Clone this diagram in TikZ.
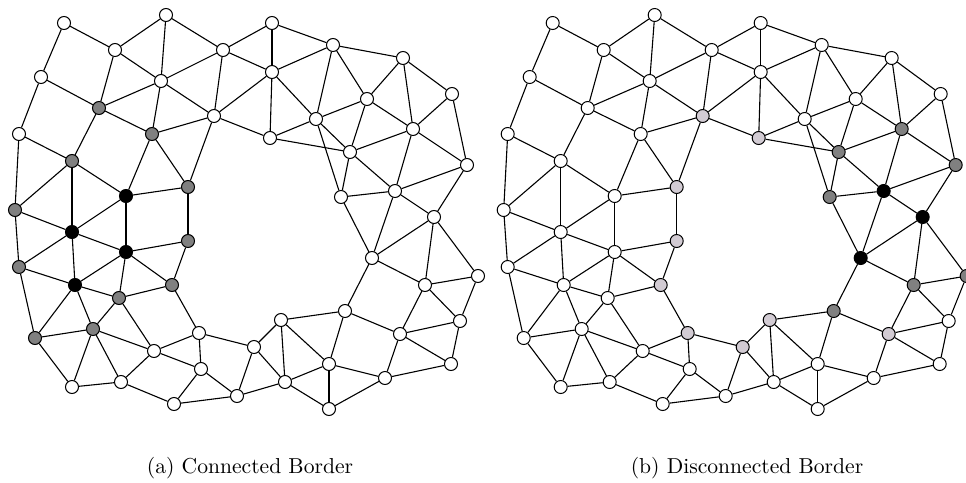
\documentclass[tikz,border=0pt]{standalone}
\usepackage{tikz}
\definecolor{wt}{HTML}{FFFFFF}
\definecolor{gy}{HTML}{808080}
\definecolor{lg}{HTML}{D2CBD3}
\definecolor{bk}{HTML}{000000}

\begin{document}
\begin{tikzpicture}[x=0.5pt,y=-0.5pt,
    vtx/.style={circle,draw,line width=0.5pt,minimum size=6.5pt,inner sep=0pt},
    wire/.style={line width=0.55pt},
    caption/.style={font=\fontsize{10.8}{13}\selectfont}]
  \useasboundingbox (0,0) rectangle (966,483);
  % vertices: name/x/y/fill in (a)/fill in (b)
  \foreach \n/\x/\y/\ca/\cb in {
      A1/64/23/wt/wt, A2/166/15/wt/wt, A3/115/50/wt/wt, A4/223/50/wt/wt,
      A5/41/77/wt/wt, A6/161/81/wt/wt, A7/99/108/gy/wt, A8/214/116/wt/lg,
      A9/19/134/wt/wt, A10/152/134/gy/wt, A11/72/161/gy/wt, A12/188/187/gy/lg,
      A13/126/196/bk/wt, A14/15/210/gy/wt,
      B1/272/23/wt/wt, B2/333/45/wt/wt, B3/272/72/wt/wt, B4/403/58/wt/wt,
      B5/452/94/wt/wt, B6/367/99/wt/wt, B7/316/119/wt/wt, B8/270/138/wt/lg,
      B9/413/129/wt/gy, B10/350/152/wt/gy, B11/467/165/wt/gy, B12/341/197/wt/gy,
      B13/395/191/wt/bk, B14/434/217/wt/bk,
      C3/372/258/wt/bk, C4/478/276/wt/gy, C5/425/285/wt/gy, C6/345/311/wt/gy,
      C7/281/320/wt/lg, C8/460/321/wt/wt, C9/400/334/wt/lg, C10/254/347/wt/lg,
      C11/329/364/wt/wt, C12/451/364/wt/wt, C13/285/382/wt/wt, C14/385/378/wt/wt,
      C15/237/396/wt/wt, C16/329/409/wt/wt,
      D1/72/232/bk/wt, D2/188/241/gy/lg, D3/126/252/bk/wt, D4/19/267/gy/wt,
      D5/75/285/bk/wt, D6/172/285/gy/lg, D7/119/298/gy/wt, D8/93/329/gy/wt,
      D9/35/338/gy/wt, D10/199/333/wt/lg, D11/154/351/wt/wt, D12/201/369/wt/wt,
      D13/121/382/wt/wt, D14/72/387/wt/wt, D15/174/404/wt/wt}
  {
    \node[vtx,fill=\ca] (a\n) at (\x,\y) {};
    \node[vtx,fill=\cb] (b\n) at (\x+488.7,\y) {};
  }
  % edges, same mesh in both panels
  \foreach \u/\v in {
      A1/A3, A1/A5, A2/A3, A2/A6, A2/A4, A3/A6, A3/A7, A4/A6, A4/A8, A4/B1,
      A4/B3, A5/A7, A5/A9, A6/A7, A6/A8, A6/A10, A7/A10, A7/A11, A8/A10, A8/A12,
      A8/B3, A8/B8, A9/A11, A9/A14, A10/A12, A10/A13, A11/A13, A11/A14, A11/D1,
      A12/A13, A12/D2, A13/D1, A13/D3, A14/D1, A14/D4,
      D1/D3, D1/D4, D1/D5, D3/D2, D3/D5, D3/D7, D3/D6, D2/D6, D4/D5, D4/D9,
      D5/D7, D5/D9, D5/D8, D6/D7, D6/D10, D7/D8, D7/D11, D8/D9, D8/D14, D8/D13,
      D8/D11, D9/D14, D10/D11, D10/D12, D10/C10, D11/D13, D11/D12, D12/D15,
      D12/C15, D13/D14, D13/D15, D15/C15,
      C15/C10, C15/C13, C10/C7, C10/C13, C13/C7, C13/C11, C13/C16, C7/C11,
      C7/C6, C11/C16, C11/C14, C11/C6, C16/C14, C14/C9, C14/C12, C6/C9, C6/C3,
      C9/C12, C9/C8, C9/C5, C12/C8, C8/C4, C8/C5, C5/C3, C5/C4, C5/B14, C4/B14,
      C3/B12, C3/B13, C3/B14,
      B1/B2, B1/B3, B2/B3, B2/B4, B2/B6, B2/B7, B3/B7, B3/B8, B4/B6, B4/B5,
      B4/B9, B5/B9, B5/B11, B6/B7, B6/B9, B6/B10, B7/B8, B7/B10, B7/B12, B8/B10,
      B9/B10, B9/B11, B9/B13, B10/B12, B10/B13, B11/B13, B11/B14, B12/B13, B13/B14}
  {
    \draw[wire] (a\u) -- (a\v);
    \draw[wire] (b\u) -- (b\v);
  }
  \node[caption] (capa) at (250,468) {(a) Connected Border};
  \node[caption] (capb) at (747,468) {(b) Disconnected Border};
\end{tikzpicture}
\end{document}
